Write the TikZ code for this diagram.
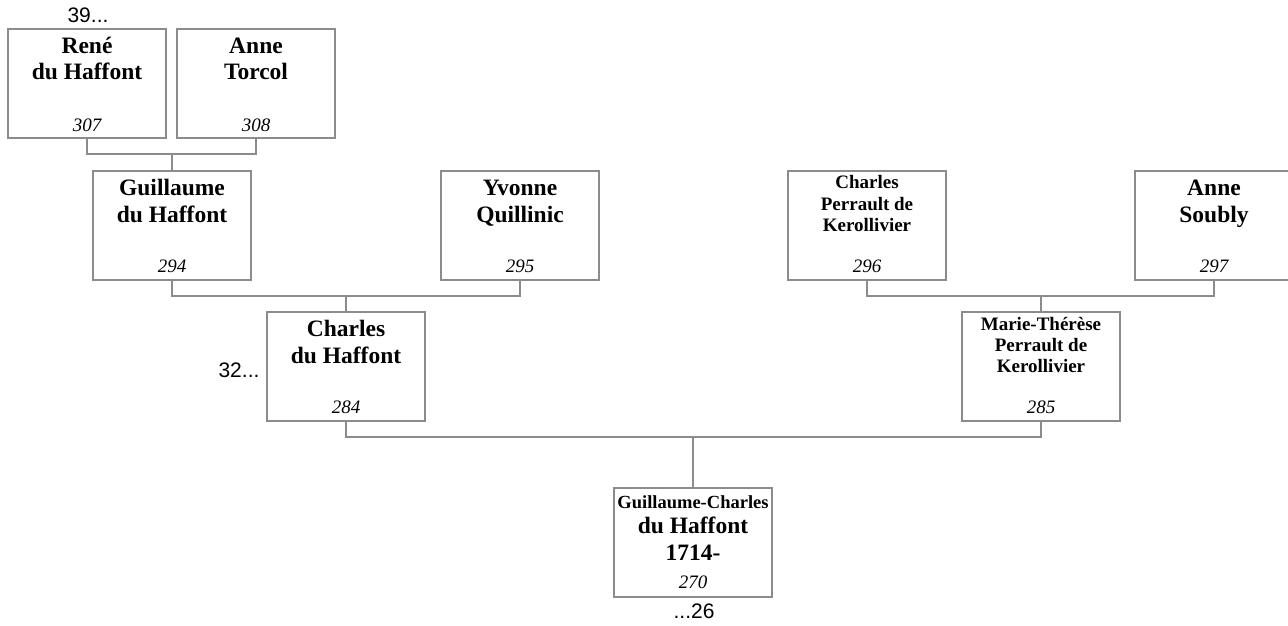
\documentclass[tikz,border=0pt]{standalone}
\usepackage{fontspec}
\setmainfont{Liberation Serif}
\newfontfamily\lbsans{Liberation Sans}
\newcommand\bgnfont{\fontsize{23.5}{26.5}\selectfont\bfseries}
\newcommand\smnfont{\fontsize{19}{21}\selectfont\bfseries}
\newcommand\gcnfont{\fontsize{18.5}{21}\selectfont\bfseries}
\newcommand\numfont{\fontsize{19}{21}\selectfont\itshape}
\newcommand\gennfont{\lbsans\fontsize{21}{23}\selectfont}
\definecolor{boxgray}{RGB}{140,140,140}
\definecolor{linegray}{RGB}{140,140,140}
\tikzset{
  personbox/.style={draw=boxgray, line width=1.3pt, minimum width=158pt, minimum height=109pt, inner sep=0pt, outer sep=0pt, anchor=north},
  bgn/.style={anchor=base, inner sep=0pt, font=\bgnfont},
  smn/.style={anchor=base, inner sep=0pt, font=\smnfont},
  gcn/.style={anchor=base, inner sep=0pt, font=\gcnfont},
  numtxt/.style={anchor=base, inner sep=0pt, font=\numfont},
  gentxt/.style={anchor=base, inner sep=0pt, font=\gennfont},
  link/.style={draw=linegray, line width=1.1pt}
}
\begin{document}
\begin{tikzpicture}[x=1pt,y=-1pt]
\useasboundingbox (0,0) rectangle (1288,626);
% boxes
\node[personbox] (rene) at (87,29) {};
\node[personbox] (torcol) at (256,29) {};
\node[personbox] (guil) at (172,171) {};
\node[personbox] (yvon) at (520,171) {};
\node[personbox] (cperr) at (867,171) {};
\node[personbox] (soub) at (1214,171) {};
\node[personbox] (charles) at (346,312) {};
\node[personbox] (marie) at (1041,312) {};
\node[personbox] (gc) at (693,488) {};
% names
\node[bgn] (rene1) at ([yshift=-25pt]rene.north) {René};
\node[bgn] (rene2) at ([yshift=-51pt]rene.north) {du Haffont};
\node[numtxt] (rene3) at ([yshift=7pt]rene.south) {307};
\node[bgn] (torcol1) at ([yshift=-25pt]torcol.north) {Anne};
\node[bgn] (torcol2) at ([yshift=-51pt]torcol.north) {Torcol};
\node[numtxt] (torcol3) at ([yshift=7pt]torcol.south) {308};
\node[bgn] (guil1) at ([yshift=-24.5pt]guil.north) {Guillaume};
\node[bgn] (guil2) at ([yshift=-51pt]guil.north) {du Haffont};
\node[numtxt] (guil3) at ([yshift=8pt]guil.south) {294};
\node[bgn] (yvon1) at ([yshift=-24.5pt]yvon.north) {Yvonne};
\node[bgn] (yvon2) at ([yshift=-51pt]yvon.north) {Quillinic};
\node[numtxt] (yvon3) at ([yshift=8pt]yvon.south) {295};
\node[smn] (cperr1) at ([yshift=-17.5pt]cperr.north) {Charles};
\node[smn] (cperr2) at ([yshift=-39pt]cperr.north) {Perrault de};
\node[smn] (cperr3) at ([yshift=-60pt]cperr.north) {Kerollivier};
\node[numtxt] (cperr4) at ([yshift=8pt]cperr.south) {296};
\node[bgn] (soub1) at ([yshift=-24.5pt]soub.north) {Anne};
\node[bgn] (soub2) at ([yshift=-51pt]soub.north) {Soubly};
\node[numtxt] (soub3) at ([yshift=8pt]soub.south) {297};
\node[bgn] (charles1) at ([yshift=-24.5pt]charles.north) {Charles};
\node[bgn] (charles2) at ([yshift=-51pt]charles.north) {du Haffont};
\node[numtxt] (charles3) at ([yshift=8pt]charles.south) {284};
\node[smn] (marie1) at ([yshift=-18pt]marie.north) {Marie-Thérèse};
\node[smn] (marie2) at ([yshift=-39pt]marie.north) {Perrault de};
\node[smn] (marie3) at ([yshift=-60pt]marie.north) {Kerollivier};
\node[numtxt] (marie4) at ([yshift=8pt]marie.south) {285};
\node[gcn] (gc1) at ([yshift=-20pt]gc.north) {Guillaume-Charles};
\node[bgn] (gc2) at ([yshift=-45.5pt]gc.north) {du Haffont};
\node[bgn] (gc3) at ([yshift=-72pt]gc.north) {1714-};
\node[numtxt] (gc4) at ([yshift=9pt]gc.south) {270};
% generation markers
\node[gentxt] (g39) at (88,23) {39...};
\node[gentxt] (g32) at (239,377) {32...};
\node[gentxt] (g26) at (694,618) {...26};
% junctions
\coordinate (j1) at (172,154);
\coordinate (j2) at (346,296);
\coordinate (j3) at (1041,296);
\coordinate (j4) at (693,437);
\draw[link] (rene.south) |- (j1) -| (torcol.south);
\draw[link] (j1) -- (guil.north);
\draw[link] (guil.south) |- (j2) -| (yvon.south);
\draw[link] (j2) -- (charles.north);
\draw[link] (cperr.south) |- (j3) -| (soub.south);
\draw[link] (j3) -- (marie.north);
\draw[link] (charles.south) |- (j4) -| (marie.south);
\draw[link] (j4) -- (gc.north);
\end{tikzpicture}
\end{document}
